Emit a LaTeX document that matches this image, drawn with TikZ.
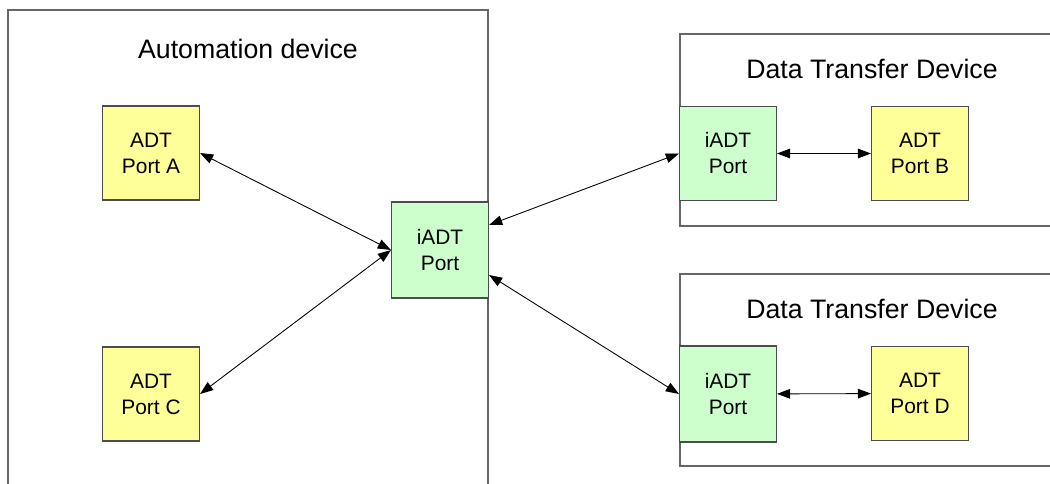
\documentclass[tikz,border=0pt]{standalone}
\usepackage{fontspec}
\setmainfont{Liberation Sans}
\usepackage{xcolor}
\usetikzlibrary{arrows.meta,positioning}

\definecolor{adtyellow}{HTML}{FFFF99}
\definecolor{iadtgreen}{HTML}{CCFFCC}
\definecolor{framegray}{HTML}{666666}

\begin{document}
\begin{tikzpicture}[
  portbox/.style={rectangle, draw=black!70, line width=0.6pt, minimum width=1.94cm, minimum height=1.88cm, align=center, inner sep=0pt, font=\fontsize{11.9}{14.8}\selectfont},
  adt/.style={portbox, fill=adtyellow},
  iadt/.style={portbox, fill=iadtgreen},
  devframe/.style={draw=framegray, line width=0.6pt},
  title/.style={font=\fontsize{15.2}{18}\selectfont, inner sep=0pt},
  arr/.style={{Triangle[length=7.5pt, width=5.5pt]}-{Triangle[length=7.5pt, width=5.5pt]}, line width=0.5pt}
]
\clip (0,0) rectangle (21,-9.68);

% automation device (open at the bottom)
\draw[devframe] (0.16,-10) -- (0.16,-0.2) -- (9.76,-0.2) -- (9.76,-10);
\node[title] (autotitle) at (4.96,-0.98) {Automation device};

\node[adt] (portA) at (3.02,-3.06) {ADT\\Port A};
\node[adt] (portC) at (3.02,-7.88) {ADT\\Port C};
\node[iadt, minimum height=1.92cm] (hub) at (8.8,-5.0) {iADT\\Port};

% data transfer devices
\draw[devframe] (21.2,-0.68) -- (13.6,-0.68) -- (13.6,-4.52) -- (21.2,-4.52);
\node[title] (dtdtitleB) at (17.44,-1.38) {Data Transfer Device};
\node[iadt] (iadtB) at (14.56,-3.07) {iADT\\Port};
\node[adt] (portB) at (18.4,-3.07) {ADT\\Port B};

\draw[devframe] (21.2,-5.48) -- (13.6,-5.48) -- (13.6,-9.32) -- (21.2,-9.32);
\node[title] (dtdtitleD) at (17.44,-6.18) {Data Transfer Device};
\node[iadt, minimum height=1.92cm] (iadtD) at (14.56,-7.88) {iADT\\Port};
\node[adt] (portD) at (18.4,-7.87) {ADT\\Port D};

\draw[arr] (portA.east) -- (hub.west);
\draw[arr] (portC.east) -- (hub.west);
\draw[arr] ([yshift=0.5cm]hub.east) -- (iadtB.west);
\draw[arr] ([yshift=-0.5cm]hub.east) -- (iadtD.west);
\draw[arr] (iadtB) -- (portB);
\draw[arr] (iadtD) -- (portD);

\end{tikzpicture}
\end{document}
